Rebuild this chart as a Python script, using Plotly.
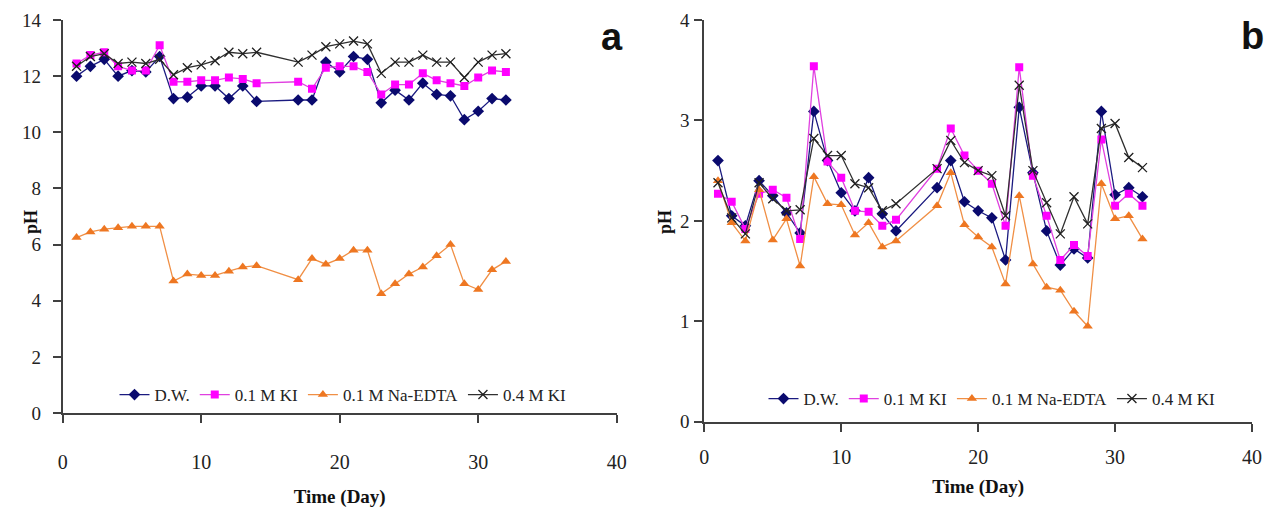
import plotly.graph_objects as go

# ---------------- data ----------------
days = [1, 2, 3, 4, 5, 6, 7, 8, 9, 10, 11, 12, 13, 14,
        17, 18, 19, 20, 21, 22, 23, 24, 25, 26, 27, 28, 29, 30, 31, 32]

series_names = ["D.W.", "0.1 M KI", "0.1 M Na-EDTA", "0.4 M KI"]

# panel a
a_dw = [12.0, 12.35, 12.6, 12.0, 12.2, 12.15, 12.7, 11.2, 11.25, 11.65, 11.65, 11.2, 11.65, 11.1,
        11.15, 11.15, 12.5, 12.15, 12.7, 12.6, 11.05, 11.5, 11.15, 11.75, 11.35, 11.3, 10.45, 10.75, 11.2, 11.15]
a_ki01 = [12.45, 12.75, 12.85, 12.35, 12.2, 12.2, 13.1, 11.8, 11.8, 11.85, 11.85, 11.95, 11.9, 11.75,
          11.8, 11.55, 12.3, 12.35, 12.35, 12.15, 11.35, 11.7, 11.7, 12.1, 11.85, 11.75, 11.65, 11.95, 12.2, 12.15]
a_edta = [6.25, 6.45, 6.55, 6.6, 6.65, 6.65, 6.65, 4.7, 4.95, 4.9, 4.9, 5.05, 5.2, 5.25,
          4.75, 5.5, 5.3, 5.5, 5.8, 5.8, 4.25, 4.6, 4.95, 5.2, 5.6, 6.0, 4.6, 4.4, 5.1, 5.4]
a_ki04 = [12.35, 12.7, 12.8, 12.45, 12.5, 12.45, 12.6, 12.05, 12.3, 12.4, 12.55, 12.85, 12.8, 12.85,
          12.5, 12.75, 13.05, 13.15, 13.25, 13.15, 12.1, 12.5, 12.5, 12.75, 12.5, 12.5, 11.95, 12.5, 12.75, 12.8]

# panel b
b_dw = [2.6, 2.05, 1.95, 2.4, 2.25, 2.08, 1.88, 3.09, 2.6, 2.28, 2.1, 2.43, 2.07, 1.9,
        2.33, 2.6, 2.19, 2.1, 2.03, 1.61, 3.13, 2.48, 1.9, 1.56, 1.72, 1.63, 3.09, 2.26, 2.33, 2.24]
b_ki01 = [2.27, 2.19, 1.92, 2.27, 2.31, 2.23, 1.82, 3.54, 2.59, 2.43, 2.1, 2.09, 1.95, 2.01,
          2.52, 2.92, 2.65, 2.5, 2.37, 1.95, 3.53, 2.45, 2.05, 1.61, 1.76, 1.65, 2.81, 2.15, 2.27, 2.15]
b_edta = [2.4, 1.98, 1.8, 2.31, 1.81, 2.02, 1.55, 2.44, 2.17, 2.16, 1.86, 1.98, 1.74, 1.8,
          2.15, 2.48, 1.96, 1.84, 1.74, 1.37, 2.25, 1.57, 1.34, 1.31, 1.1, 0.95, 2.37, 2.02, 2.05, 1.82]
b_ki04 = [2.38, 2.03, 1.87, 2.38, 2.22, 2.1, 2.11, 2.82, 2.65, 2.65, 2.37, 2.33, 2.1, 2.17,
          2.52, 2.8, 2.58, 2.5, 2.45, 2.05, 3.35, 2.5, 2.18, 1.87, 2.24, 1.97, 2.92, 2.97, 2.63, 2.53]

x_ticks = [0, 10, 20, 30, 40]
a_y_ticks = [0, 2, 4, 6, 8, 10, 12, 14]
b_y_ticks = [0, 1, 2, 3, 4]

# ---------------- styles ----------------
styles = [
    dict(line=dict(color="#1a1a80", width=1.3),
         marker=dict(symbol="diamond", size=9, color="#0a0a6e")),
    dict(line=dict(color="#e040e0", width=1.3),
         marker=dict(symbol="square", size=8, color="#ff00ff")),
    dict(line=dict(color="#f08f45", width=1.3),
         marker=dict(symbol="triangle-up", size=9, color="#ee7722")),
    dict(line=dict(color="#303030", width=1.3),
         marker=dict(symbol="x-thin-open", size=9, color="#202020",
                     line=dict(width=1.3, color="#202020"))),
]

SERIF = "Liberation Serif, Times New Roman, serif"
SANS = "Liberation Sans, Arial, sans-serif"
AXC = "#404040"

fig = go.Figure()

for name, vals, st in zip(series_names, [a_dw, a_ki01, a_edta, a_ki04], styles):
    fig.add_trace(go.Scatter(x=days, y=vals, name=name, mode="lines+markers",
                             xaxis="x", yaxis="y", legend="legend", **st))

for name, vals, st in zip(series_names, [b_dw, b_ki01, b_edta, b_ki04], styles):
    fig.add_trace(go.Scatter(x=days, y=vals, name=name, mode="lines+markers",
                             xaxis="x2", yaxis="y2", legend="legend2", **st))

# the page body has an 8px default margin, so the figure is offset by 8px
OFF = 8
W, H = 1272 - OFF, 511 - OFF


def px_x(p):
    return (p - OFF) / W


def px_y(p):
    return 1 - (p - OFF) / H


common_x = dict(range=[0, 40], tickvals=x_ticks, showgrid=False, zeroline=False,
                showline=True, linecolor=AXC, linewidth=2, ticks="outside",
                ticklen=8, tickwidth=1.5, tickcolor=AXC,
                tickfont=dict(family=SERIF, size=20, color="#222"),
                automargin=False)
common_y = dict(showgrid=False, zeroline=False, showline=True, linecolor=AXC, linewidth=2,
                ticks="outside", ticklen=8, tickwidth=1.5, tickcolor=AXC,
                tickfont=dict(family=SERIF, size=19, color="#222"),
                automargin=False)
title_font = dict(family=SERIF, size=19, color="#111")

fig.update_layout(
    width=W, height=H,
    margin=dict(l=0, r=0, t=0, b=0),
    paper_bgcolor="white", plot_bgcolor="white",
    xaxis=dict(common_x, domain=[px_x(62.7), px_x(616.7)], anchor="y",
               ticklabelstandoff=22,
               title=dict(text="<b>Time (Day)</b>", font=title_font, standoff=18)),
    yaxis=dict(common_y, domain=[px_y(413), px_y(20)], anchor="x", range=[0, 14],
               tickvals=a_y_ticks, ticklabelstandoff=8),
    xaxis2=dict(common_x, domain=[px_x(704.3), px_x(1252)], anchor="y2",
                ticklabelstandoff=8,
                title=dict(text="<b>Time (Day)</b>", font=title_font, standoff=13)),
    yaxis2=dict(common_y, domain=[px_y(421.7), px_y(20)], anchor="x2", range=[0, 4],
                tickvals=b_y_ticks, ticklabelstandoff=1),
    legend=dict(orientation="h", x=px_x(343), y=px_y(395), xanchor="center", yanchor="middle",
                font=dict(family=SERIF, size=17, color="#222"), bgcolor="rgba(0,0,0,0)",
                itemwidth=30, tracegroupgap=0),
    legend2=dict(orientation="h", x=px_x(992), y=px_y(399), xanchor="center", yanchor="middle",
                 font=dict(family=SERIF, size=17, color="#222"), bgcolor="rgba(0,0,0,0)",
                 itemwidth=30, tracegroupgap=0),
    annotations=[
        dict(text="<b>pH</b>", x=px_x(31), y=px_y(222), xref="paper", yref="paper",
             textangle=-90, showarrow=False, xanchor="center", yanchor="middle",
             font=dict(family=SERIF, size=18, color="#111")),
        dict(text="<b>pH</b>", x=px_x(665), y=px_y(222), xref="paper", yref="paper",
             textangle=-90, showarrow=False, xanchor="center", yanchor="middle",
             font=dict(family=SERIF, size=18, color="#111")),
        dict(text="<b>a</b>", x=px_x(611.5), y=px_y(37), xref="paper", yref="paper",
             showarrow=False, xanchor="center", yanchor="middle",
             font=dict(family=SANS, size=38, color="#111")),
        dict(text="<b>b</b>", x=px_x(1252), y=px_y(36), xref="paper", yref="paper",
             showarrow=False, xanchor="center", yanchor="middle",
             font=dict(family=SANS, size=38, color="#111")),
    ],
)

fig.write_html("out.html")
